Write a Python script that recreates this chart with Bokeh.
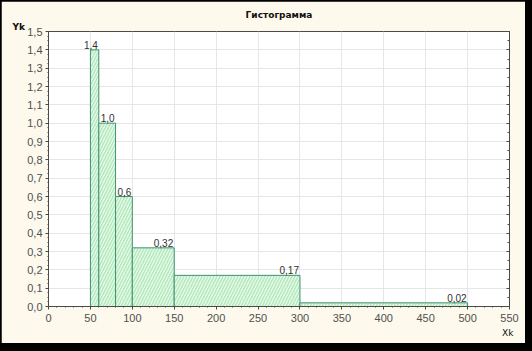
from bokeh.plotting import figure
from bokeh.models import (Range1d, FixedTicker, CustomJSTickFormatter, LinearAxis,
                          Title, ColumnDataSource)
from bokeh.layouts import column
from bokeh.core.properties import value
from bokeh.embed import file_html
from bokeh.resources import INLINE

# data
bin_left = [50, 60, 80, 100, 150, 300]
bin_right = [60, 80, 100, 150, 300, 500]
yk = [1.4, 1.0, 0.6, 0.32, 0.17, 0.02]
yk_labels = ["1,4", "1,0", "0,6", "0,32", "0,17", "0,02"]
x_ticks = [0, 50, 100, 150, 200, 250, 300, 350, 400, 450, 500, 550]
y_ticks = [0.0, 0.1, 0.2, 0.3, 0.4, 0.5, 0.6, 0.7, 0.8, 0.9, 1.0, 1.1, 1.2, 1.3, 1.4, 1.5]
title_text = "Гистограмма"
x_name = "Xk"
y_name = "Yk"

CREAM = "#FDF9EC"
AX = "#4a4a4a"

p = figure(width=524, height=342, output_backend="svg", toolbar_location=None,
           x_range=Range1d(0, 550), y_range=Range1d(0, 1.5),
           min_border_left=47, min_border_right=16, min_border_top=30,
           min_border_bottom=37)
p.border_fill_color = CREAM
p.background_fill_color = "white"
p.outline_line_color = AX
p.outline_line_width = 1

src = ColumnDataSource(dict(left=bin_left, right=bin_right, top=yk,
                            bottom=[0] * len(yk), lab=yk_labels))
p.quad(left="left", right="right", top="top", bottom="bottom", source=src,
       fill_color="#E9FBEA", line_color="#3E9272", line_width=1,
       hatch_pattern="/", hatch_color="#B4E8BE", hatch_scale=6, hatch_weight=1.5)
p.text(x="right", y="top", text="lab", source=src, text_align="right",
       text_baseline="bottom", x_offset=-1, y_offset=-1,
       text_font=value("Liberation Sans"), text_font_size="10px",
       text_color="#303030")

fmt_y = CustomJSTickFormatter(code="return tick.toFixed(1).replace('.', ',');")
fmt_x = CustomJSTickFormatter(code="return tick.toFixed(0);")
blank = CustomJSTickFormatter(code="return '';")

xa = p.xaxis[0]
ya = p.yaxis[0]
xa.ticker = FixedTicker(ticks=x_ticks, minor_ticks=list(range(0, 551, 10)))
ya.ticker = FixedTicker(ticks=y_ticks, minor_ticks=[i / 40 for i in range(61)])
xa.formatter = fmt_x
ya.formatter = fmt_y
for a in (xa, ya):
    a.axis_line_color = AX
    a.major_tick_line_color = AX
    a.minor_tick_line_color = AX
    a.major_tick_out = 3
    a.major_tick_in = 0
    a.minor_tick_out = 1
    a.minor_tick_in = 0
    a.major_label_text_font = "Liberation Sans"
    a.major_label_text_font_size = "11px"
    a.major_label_text_color = "#505050"
xa.major_label_standoff = 4
ya.major_label_standoff = 3

right_ax = LinearAxis(ticker=FixedTicker(ticks=y_ticks, minor_ticks=[i / 20 for i in range(31)]),
                      formatter=blank, major_tick_in=3, major_tick_out=0,
                      minor_tick_in=2, minor_tick_out=0, major_label_standoff=0,
                      axis_line_color=AX, major_tick_line_color=AX, minor_tick_line_color=AX,
                      major_label_text_font_size="1px")
p.add_layout(right_ax, "right")

p.xgrid.ticker = FixedTicker(ticks=x_ticks)
p.ygrid.ticker = FixedTicker(ticks=y_ticks)
p.xgrid.grid_line_color = "#E6E6E6"
p.ygrid.grid_line_color = "#E6E6E6"

p.title.text = title_text
p.title.align = "center"
p.title.offset = -6
p.title.standoff = 0
p.title.text_font = "DejaVu Sans"
p.title.text_font_style = "bold"
p.title.text_font_size = "9px"
p.title.text_color = "#101010"

p.add_layout(Title(text=y_name, align="left", offset=-36, standoff=0,
                   text_font="DejaVu Sans", text_font_style="bold",
                   text_font_size="9px", text_color="#101010"), "above")
p.add_layout(Title(text=x_name, align="right", offset=-4, standoff=3,
                   text_font="DejaVu Sans", text_font_style="normal",
                   text_font_size="9px", text_color="#101010"), "below")

layout = column(p, styles={"background-color": "black",
                           "padding": "1px 8px 8px 1px"})

open("out.html", "w").write(file_html(layout, INLINE))
